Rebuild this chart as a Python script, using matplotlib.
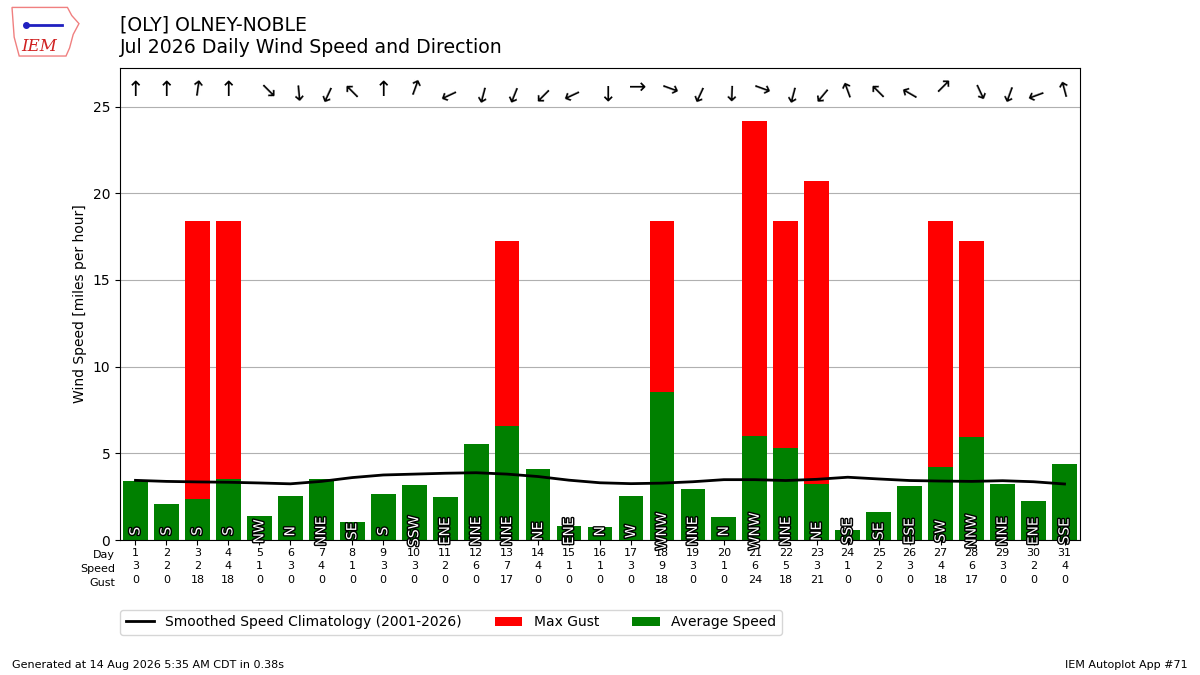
import matplotlib
matplotlib.use("Agg")
import matplotlib.pyplot as plt
import matplotlib.patheffects as pe
from matplotlib.patches import Polygon

# data
days = list(range(1, 32))
avg_speed = [3.41, 2.08, 2.37, 3.52, 1.39, 2.52, 3.52, 1.04, 2.66, 3.18,
             2.48, 5.54, 6.58, 4.10, 0.81, 0.75, 2.54, 8.55, 2.94, 1.33,
             6.00, 5.31, 3.23, 0.58, 1.62, 3.12, 4.20, 5.95, 3.23, 2.25, 4.39]
max_gust = [0, 0, 18.42, 18.42, 0, 0, 0, 0, 0, 0,
            0, 0, 17.26, 0, 0, 0, 0, 18.42, 0, 0,
            24.19, 18.42, 20.73, 0, 0, 0, 18.42, 17.26, 0, 0, 0]
climo = [3.44, 3.38, 3.35, 3.33, 3.29, 3.24, 3.38, 3.60, 3.75, 3.80,
         3.85, 3.88, 3.80, 3.66, 3.45, 3.30, 3.25, 3.28, 3.36, 3.48,
         3.48, 3.43, 3.50, 3.62, 3.52, 3.43, 3.40, 3.38, 3.42, 3.36, 3.23]
drct = [180, 180, 188, 180, 315, 355, 25, 135, 180, 200,
        65, 15, 22, 45, 65, 0, 270, 290, 25, 2,
        290, 15, 40, 160, 135, 120, 225, 335, 20, 70, 165]
drct_txt = ['S', 'S', 'S', 'S', 'NW', 'N', 'NNE', 'SE', 'S', 'SSW',
            'ENE', 'NNE', 'NNE', 'NE', 'ENE', 'N', 'W', 'WNW', 'NNE', 'N',
            'WNW', 'NNE', 'NE', 'SSE', 'SE', 'ESE', 'SW', 'NNW', 'NNE', 'ENE', 'SSE']

fig = plt.figure(figsize=(12, 6.75), dpi=100)
ax = fig.add_axes([0.1, 0.2, 0.8, 0.7])

ax.plot(days, climo, color='k', lw=2, zorder=3,
        label='Smoothed Speed Climatology (2001-2026)')
ax.bar(days, max_gust, width=0.8, color='red', label='Max Gust', zorder=2)
ax.bar(days, avg_speed, width=0.8, color='green', label='Average Speed', zorder=2)

# direction labels in the bars and arrows on top
for d, t, a in zip(days, drct_txt, drct):
    ax.text(d, 0.5, t, rotation=90, ha='center', va='center', fontsize=10,
            color='white', zorder=4, clip_on=False,
            path_effects=[pe.withStroke(linewidth=2, foreground='k')])
    ax.text(d, 25.95, '\u2191', rotation=180 - a,
            ha='center', va='center', fontsize=15, color='k')

ax.set_xlim(0.5, 31.5)
ax.set_ylim(0, 27.25)
ax.set_yticks([0, 5, 10, 15, 20, 25])
ax.grid(True, axis='y', color='#b0b0b0', zorder=0)
ax.set_axisbelow(True)
ax.set_ylabel('Wind Speed [miles per hour]')

ax.set_xticks(days)
ax.set_xticklabels([f"{d}\n{round(s)}\n{round(g)}" for d, s, g in zip(days, avg_speed, max_gust)],
                   fontsize=8, linespacing=1.45)
ax.tick_params(axis='x', pad=2)
ax.text(-0.005, -0.022, "Day\nSpeed\nGust", transform=ax.transAxes, ha='right', va='top',
        fontsize=8, linespacing=1.45)

ax.legend(loc='upper left', bbox_to_anchor=(-0.007, -0.133), ncol=3, fontsize=10,
          columnspacing=2.4)

fig.text(0.1, 0.977, "[OLY] OLNEY-NOBLE\nJul 2026 Daily Wind Speed and Direction",
         ha='left', va='top', fontsize=13.6, linespacing=1.25)
fig.text(0.01, 0.01, "Generated at 14 Aug 2026 5:35 AM CDT in 0.38s", fontsize=8)
fig.text(0.99, 0.01, "IEM Autoplot App #71", fontsize=8, ha='right')

# rough IEM logo
lax = fig.add_axes([0.007, 0.913, 0.06, 0.08])
lax.set_xlim(0, 1)
lax.set_ylim(0, 1)
lax.axis('off')
lax.add_patch(Polygon([(0.05, 0.95), (0.82, 0.95), (0.88, 0.8), (0.98, 0.65), (0.9, 0.45),
                       (0.85, 0.2), (0.8, 0.05), (0.15, 0.05), (0.08, 0.4)],
                      closed=True, fill=False, ec='#f08080', lw=1))
lax.plot([0.25, 0.75], [0.62, 0.62], color='#2020c0', lw=2)
lax.plot([0.25], [0.62], 'o', color='#2020c0', ms=4)
lax.text(0.42, 0.22, 'IEM', color='#d02020', fontsize=12, style='italic',
         family='serif', ha='center', va='center')

fig.savefig('out.png', dpi=100)
